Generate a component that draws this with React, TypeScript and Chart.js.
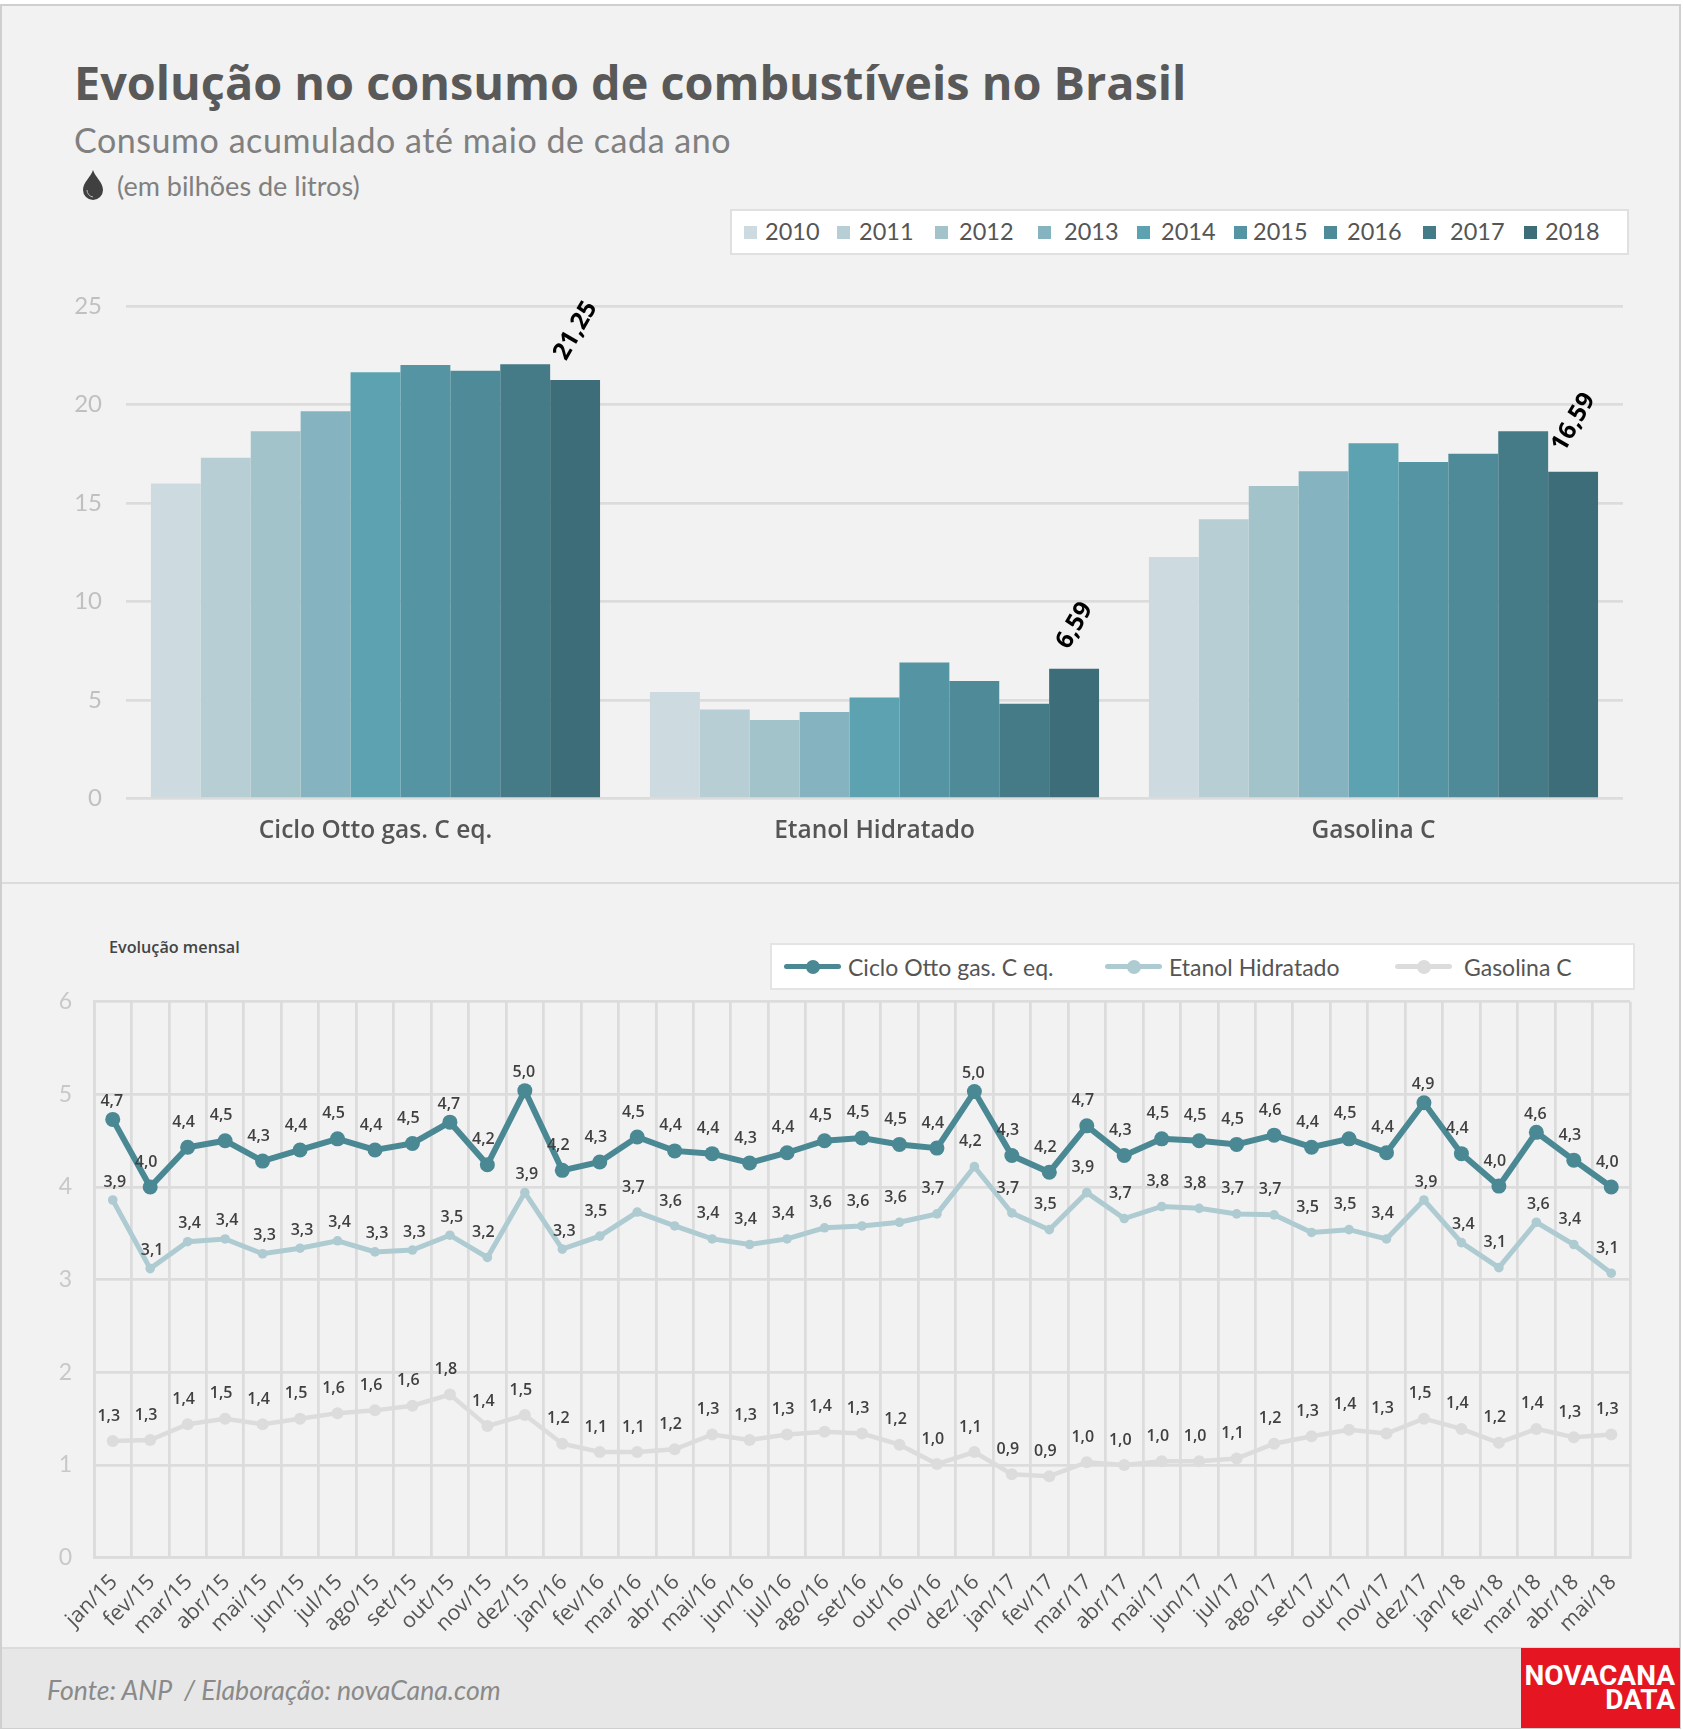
import { useEffect, useRef } from "react";
import Chart from "chart.js/auto";

const fuels = ["Ciclo Otto gas. C eq.", "Etanol Hidratado", "Gasolina C"];
const years = ["2010", "2011", "2012", "2013", "2014", "2015", "2016", "2017", "2018"];
const yearColors = ["#cddbe0", "#b8ced5", "#a2c3ca", "#85b3bf", "#5ca2b0", "#5595a3", "#4f8a98", "#457a87", "#3c6d78"];

const cicloByYear = [15.99, 17.3, 18.65, 19.66, 21.64, 22.0, 21.71, 22.05, 21.25];
const etanolByYear = [5.41, 4.53, 3.99, 4.4, 5.14, 6.91, 5.97, 4.82, 6.59];
const gasolinaByYear = [12.27, 14.18, 15.87, 16.62, 18.04, 17.09, 17.5, 18.65, 16.59];

const months = [
  "jan/15", "fev/15", "mar/15", "abr/15", "mai/15", "jun/15", "jul/15", "ago/15", "set/15", "out/15", "nov/15", "dez/15",
  "jan/16", "fev/16", "mar/16", "abr/16", "mai/16", "jun/16", "jul/16", "ago/16", "set/16", "out/16", "nov/16", "dez/16",
  "jan/17", "fev/17", "mar/17", "abr/17", "mai/17", "jun/17", "jul/17", "ago/17", "set/17", "out/17", "nov/17", "dez/17",
  "jan/18", "fev/18", "mar/18", "abr/18", "mai/18",
];

const cicloMonthly = [
  4.73, 4.0, 4.43, 4.5, 4.28, 4.4, 4.52, 4.4, 4.47, 4.7, 4.24, 5.04,
  4.18, 4.27, 4.54, 4.39, 4.36, 4.26, 4.37, 4.5, 4.53, 4.46, 4.42, 5.03,
  4.34, 4.16, 4.66, 4.34, 4.52, 4.5, 4.46, 4.56, 4.43, 4.52, 4.37, 4.91,
  4.36, 4.01, 4.59, 4.29, 4.0,
];
const etanolMonthly = [
  3.86, 3.12, 3.41, 3.44, 3.28, 3.34, 3.42, 3.3, 3.32, 3.48, 3.24, 3.94,
  3.33, 3.47, 3.73, 3.58, 3.44, 3.38, 3.44, 3.56, 3.58, 3.62, 3.71, 4.22,
  3.72, 3.54, 3.94, 3.66, 3.79, 3.77, 3.71, 3.7, 3.51, 3.54, 3.44, 3.86,
  3.4, 3.13, 3.62, 3.38, 3.07,
];
const gasolinaMonthly = [
  1.26, 1.27, 1.44, 1.5, 1.44, 1.5, 1.56, 1.59, 1.64, 1.76, 1.42, 1.54,
  1.23, 1.14, 1.14, 1.17, 1.33, 1.27, 1.33, 1.36, 1.34, 1.22, 1.01, 1.14,
  0.9, 0.88, 1.03, 1.0, 1.04, 1.04, 1.07, 1.23, 1.31, 1.38, 1.34, 1.5,
  1.39, 1.24, 1.39, 1.3, 1.33,
];

const monthlySeries = [
  { label: fuels[0], data: cicloMonthly, color: "#4a8894", width: 6, radius: 7.5 },
  { label: fuels[1], data: etanolMonthly, color: "#aecbd2", width: 5, radius: 4.8 },
  { label: fuels[2], data: gasolinaMonthly, color: "#dcdcdc", width: 4.5, radius: 6 },
];

// months whose value label sits closer to the marker in the original
const closeLabels = [
  [0, 9, 11, 23, 35, 38],
  [0, 1, 2, 3, 4, 5, 6, 7, 8, 9, 11, 12, 35, 36, 38],
  [],
];
const closeShift = [-1, 2, 0];

const GRID = "#dcdcdc";
const LABEL_FONT = "'Open Sans', sans-serif";
const SOFT_FONT = "Lato, sans-serif";

const comma = (v: number, digits: number) => v.toFixed(digits).replace(".", ",");

// rotated total above the last year's bars
const lastYearLabels = {
  id: "lastYearLabels",
  afterDatasetsDraw(chart: any) {
    const { ctx } = chart;
    const last = chart.data.datasets.length - 1;
    const values = chart.data.datasets[last].data;
    chart.getDatasetMeta(last).data.forEach((bar: any, i: number) => {
      const text = comma(values[i], 2);
      ctx.save();
      ctx.font = `700 24.5px ${LABEL_FONT}`;
      const rise = (ctx.measureText(text).width / 2) * 0.866 + 22;
      ctx.translate(bar.x + 0.5, bar.y - rise);
      ctx.rotate((-60 * Math.PI) / 180);
      ctx.fillStyle = "#000";
      ctx.textAlign = "center";
      ctx.textBaseline = "middle";
      ctx.fillText(text, 0, 0);
      ctx.restore();
    });
  },
};

const monthlyLabels = {
  id: "monthlyLabels",
  afterDatasetsDraw(chart: any) {
    const { ctx } = chart;
    ctx.save();
    ctx.font = `600 16px ${LABEL_FONT}`;
    ctx.fillStyle = "#404040";
    ctx.textAlign = "center";
    ctx.textBaseline = "middle";
    chart.data.datasets.forEach((ds: any, d: number) => {
      chart.getDatasetMeta(d).data.forEach((pt: any, i: number) => {
        const close = closeLabels[d].includes(i);
        const x = pt.x + (close ? closeShift[d] : -4);
        const y = pt.y + (close ? -18 : -25);
        ctx.fillText(comma(ds.data[i], 1), x, y);
      });
    });
    ctx.restore();
  },
};

function BarPanel() {
  const canvasRef = useRef<HTMLCanvasElement>(null);

  useEffect(() => {
    if (!canvasRef.current) return;
    const chart = new Chart(canvasRef.current, {
      type: "bar",
      data: {
        labels: fuels,
        datasets: years.map((y, i) => ({
          label: y,
          data: [cicloByYear[i], etanolByYear[i], gasolinaByYear[i]],
          backgroundColor: yearColors[i],
          categoryPercentage: 0.9,
          barPercentage: 1,
        })),
      },
      options: {
        responsive: false,
        animation: false,
        layout: { padding: { top: 56, right: 60 } },
        plugins: { legend: { display: false }, tooltip: { enabled: false } },
        scales: {
          x: {
            grid: { display: false },
            border: { display: false },
            ticks: { color: "#555", font: { size: 24.5, weight: 600, family: LABEL_FONT }, padding: 10, maxRotation: 0 },
            afterFit: (s: any) => {
              s.height = 81.3;
            },
          },
          y: {
            min: 0,
            max: 25,
            grid: { color: GRID, lineWidth: 2.8, drawTicks: false },
            border: { display: false },
            ticks: { stepSize: 5, color: "#c0c0c0", font: { size: 24, family: SOFT_FONT }, padding: 24 },
            afterFit: (s: any) => {
              s.width = 126;
            },
          },
        },
      },
      plugins: [lastYearLabels],
    });
    return () => chart.destroy();
  }, []);

  return <canvas ref={canvasRef} width={1683} height={630} style={{ position: "absolute", left: 0, top: 250 }} />;
}

function LinePanel() {
  const canvasRef = useRef<HTMLCanvasElement>(null);

  useEffect(() => {
    if (!canvasRef.current) return;
    const chart = new Chart(canvasRef.current, {
      type: "line",
      data: {
        labels: months,
        datasets: monthlySeries.map((s) => ({
          label: s.label,
          data: s.data,
          borderColor: s.color,
          backgroundColor: s.color,
          borderWidth: s.width,
          pointRadius: s.radius,
          pointBorderWidth: 0,
          tension: 0,
        })),
      },
      options: {
        responsive: false,
        animation: false,
        layout: { padding: { top: 56.7, right: 53 } },
        plugins: { legend: { display: false }, tooltip: { enabled: false } },
        scales: {
          x: {
            offset: true,
            grid: { color: GRID, lineWidth: 2.8, offset: true, drawTicks: false },
            border: { color: GRID, width: 2.8 },
            ticks: { color: "#555", font: { size: 21.5, family: LABEL_FONT }, minRotation: 45, maxRotation: 45, padding: 12, labelOffset: 1.5, autoSkip: false },
            afterFit: (s: any) => {
              s.height = 92.3;
            },
          },
          y: {
            min: 0,
            max: 6,
            grid: { color: GRID, lineWidth: 2.8, drawTicks: false },
            border: { color: GRID, width: 2.8 },
            ticks: { stepSize: 1, color: "#c8c8c8", font: { size: 23, family: SOFT_FONT }, padding: 22 },
            afterFit: (s: any) => {
              s.width = 94;
            },
          },
        },
      },
      plugins: [monthlyLabels],
    });
    return () => chart.destroy();
  }, []);

  return <canvas ref={canvasRef} width={1683} height={705} style={{ position: "absolute", left: 0, top: 945 }} />;
}

const at = (left: number, top: number, extra: any = {}) => ({ position: "absolute" as const, left, top, whiteSpace: "nowrap" as const, ...extra });

// swatch and text columns of the legend box, left to right
const yearSwatchX = [744, 837, 935, 1038, 1137, 1234, 1324, 1423, 1524];
const yearTextX = [765, 859, 959, 1064, 1161, 1253, 1347, 1450, 1545];
const lineLegendX = [784, 1105, 1395];
const lineTextX = [848, 1169, 1464];

export default function App() {
  return (
    <div style={{ position: "absolute", left: 0, top: 0, width: 1683, height: 1730, background: "#fff", overflow: "hidden", fontFamily: SOFT_FONT }}>
      <div style={{ position: "absolute", left: 0, top: 4, width: 1677, height: 1721, background: "#f2f2f2", border: "2px solid #cfcfcf" }} />
      <div style={{ position: "absolute", left: 2, top: 882, width: 1677, height: 2, background: GRID }} />
      <div style={{ position: "absolute", left: 2, top: 1647, width: 1677, height: 79, background: "#e7e7e7", borderTop: `2px solid ${GRID}` }} />

      <div style={at(74, 52, { fontFamily: LABEL_FONT, fontWeight: 700, fontSize: 46.8, lineHeight: "60px", color: "#595959" })}>
        Evolução no consumo de combustíveis no Brasil
      </div>
      <div style={at(74, 120, { fontSize: 34, letterSpacing: 0.55, lineHeight: "40px", color: "#808080" })}>Consumo acumulado até maio de cada ano</div>
      <svg width="22" height="30" viewBox="0 0 22 30" style={at(82, 170)}>
        <path d="M11 0 C13 7 21 12 21 20 A10 10 0 0 1 1 20 C1 12 9 7 11 0 Z" fill="#404040" />
        <path d="M5 20 A7 7 0 0 0 11 27" fill="none" stroke="#bbb" strokeWidth="1" />
      </svg>
      <div style={at(117, 170, { fontSize: 27, lineHeight: "32px", color: "#808080" })}>(em bilhões de litros)</div>

      <div style={{ position: "absolute", left: 730, top: 209, width: 895, height: 42, background: "#fff", border: "2px solid #e0e0e0" }} />
      {years.map((y, i) => (
        <div key={y}>
          <div style={at(yearSwatchX[i], 226, { width: 13, height: 13, background: yearColors[i] })} />
          <div style={at(yearTextX[i], 216, { fontSize: 23.5, lineHeight: "30px", color: "#555" })}>{y}</div>
        </div>
      ))}

      <BarPanel />

      <div style={at(109, 937, { fontFamily: LABEL_FONT, fontWeight: 600, fontSize: 16.2, lineHeight: "20px", color: "#444" })}>Evolução mensal</div>

      <div style={{ position: "absolute", left: 770, top: 943, width: 861, height: 43, background: "#fff", border: "2px solid #e4e4e4" }} />
      {monthlySeries.map((s, i) => (
        <div key={s.label}>
          <div style={at(lineLegendX[i], 964, { width: 57, height: 5, borderRadius: 3, background: s.color })} />
          <div style={at(lineLegendX[i] + 21.5, 959.5, { width: 14, height: 14, borderRadius: 7, background: s.color })} />
          <div style={at(lineTextX[i], 952, { fontSize: 23, lineHeight: "30px", color: "#555" })}>{s.label}</div>
        </div>
      ))}

      <LinePanel />

      <div style={at(47, 1674, { fontStyle: "italic", fontSize: 26.6, lineHeight: "32px", color: "#8a8a8a" })}>
        Fonte: ANP &nbsp;/ Elaboração: novaCana.com
      </div>
      <div style={{ position: "absolute", left: 1521, top: 1648, width: 159, height: 80, background: "#e51622" }} />
      <div
        style={at(1521, 1664, {
          width: 154,
          textAlign: "right",
          fontFamily: "'Liberation Sans Narrow', Roboto, sans-serif",
          fontWeight: 700,
          fontSize: 28,
          lineHeight: "24px",
          color: "#fff",
        })}
      >
        NOVACANA
        <br />
        DATA
      </div>
    </div>
  );
}
